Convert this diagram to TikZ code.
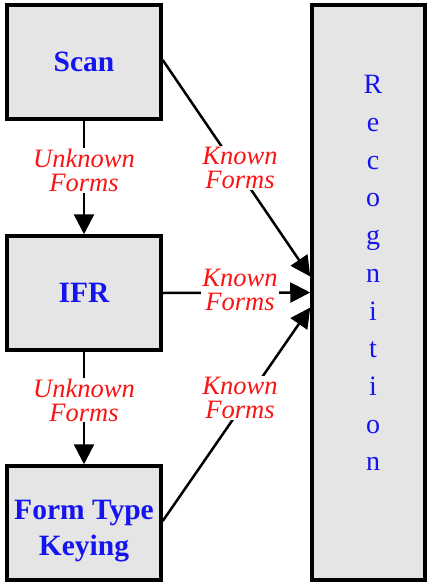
\documentclass[tikz,border=0pt]{standalone}
\usepackage{fontspec}
\setmainfont{Liberation Serif}
\usetikzlibrary{arrows.meta}
\definecolor{boxgray}{RGB}{229,229,229}
\definecolor{labelblue}{RGB}{20,20,240}
\definecolor{labelred}{RGB}{250,20,20}
\begin{document}
\begin{tikzpicture}[x=1pt,y=-1pt,
  stage/.style={draw=black, line width=3.5pt, fill=boxgray, minimum width=154pt,
    minimum height=114pt, inner sep=0pt, align=center, text=labelblue,
    font=\bfseries\fontsize{29.5}{36}\selectfont},
  stagetext/.style={text=labelblue, align=center, inner sep=0pt,
    font=\bfseries\fontsize{29.5}{36}\selectfont},
  flow/.style={line width=2.5pt, -{Triangle[length=20pt,width=20pt]}},
  tag/.style={fill=white, text=labelred, inner sep=1pt, align=center,
    font=\itshape\fontsize{26.5}{24}\selectfont}]
  \useasboundingbox (0,0) rectangle (426,584);
  % processing stages
  \node[stage] (scan) at (84,62) {Scan};
  \node[stage] (ifr) at (84,293) {IFR};
  \node[stage] (ftk) at (84,523) {};
  \node[stagetext] (ftktext) at ([yshift=-8pt]ftk.center) {Form Type\\Keying};
  \node[stage, minimum width=113pt, minimum height=575pt] (rec) at (368.5,292.5) {};
  \node[text=labelblue, font=\fontsize{28}{37.7}\selectfont, align=center, anchor=north]
    (word) at (373,72) {R\\e\\c\\o\\g\\n\\i\\t\\i\\o\\n};
  % arrow end points on the recognition stage
  \coordinate (inA) at ([yshift=16pt]rec.west);
  \coordinate (inB) at (rec.west);
  \coordinate (inC) at ([yshift=-15pt]rec.west);
  \coordinate (outA) at ([yshift=2pt]scan.east);
  \coordinate (outC) at ([yshift=2pt]ftk.east);
  % vertical flow of unknown forms
  \draw[flow] (scan) -- node[tag, pos=0.44] (u1) {Unknown\\Forms} (ifr);
  \draw[flow] (ifr) -- node[tag, pos=0.43] (u2) {Unknown\\Forms} (ftk);
  % known forms go to recognition
  \draw[flow] (outA) -- (inA);
  \draw[flow] (ifr.east) -- (inB);
  \draw[flow] (outC) -- (inC);
  \node[tag] (k1) at (240,168) {Known\\Forms};
  \node[tag] (k2) at (240,290) {Known\\Forms};
  \node[tag] (k3) at (240,398) {Known\\Forms};
\end{tikzpicture}
\end{document}
